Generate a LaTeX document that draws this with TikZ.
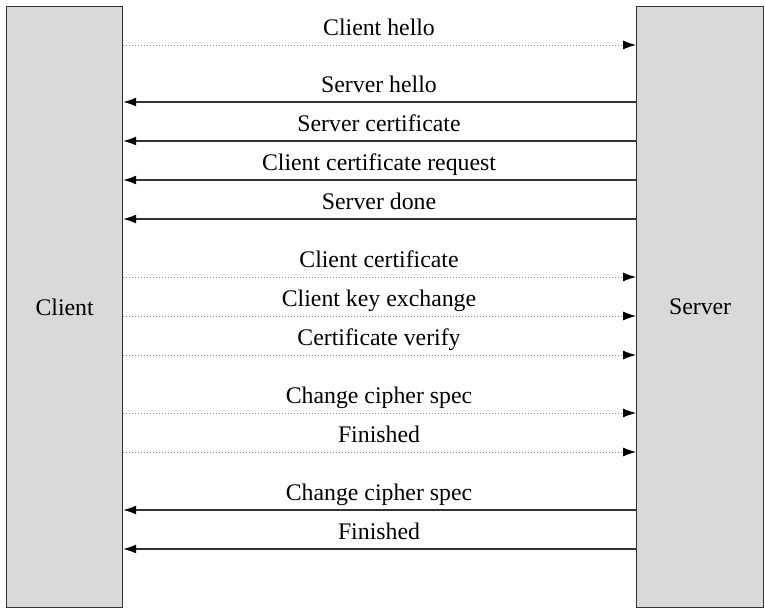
\documentclass[tikz,border=0pt]{standalone}
\usepackage{fontspec}
\setmainfont{Liberation Serif}
\usetikzlibrary{arrows.meta}
\begin{document}
\begin{tikzpicture}[x=1pt,y=-1pt,
  party/.style={draw=black!80, line width=1.2pt, fill=black!15, inner sep=0pt,
    font=\fontsize{23.8}{28}\selectfont},
  lbl/.style={inner sep=0pt, anchor=base, font=\fontsize{23.8}{28}\selectfont},
  req/.style={draw=black!45, line width=0.9pt, dash pattern=on 0.9pt off 2.1pt,
    -{Latex[length=13pt,width=9pt,black]}},
  resp/.style={draw=black!80, line width=1.3pt,
    -{Latex[length=13pt,width=9pt,black]}}
]
\useasboundingbox (0,0) rectangle (765,608);
\node[party, minimum width=116pt, minimum height=601pt, anchor=north west] (client) at (6,6) {Client};
\node[party, minimum width=127pt, minimum height=601pt, anchor=north west] (server) at (636,6) {Server};
\foreach \y/\t/\n in {45/Client hello/1, 277/Client certificate/6, 316/Client key exchange/7,
  355/Certificate verify/8, 413/Change cipher spec/9, 452/Finished/10} {
  \draw[req] (client.east |- 0,\y) -- (server.west |- 0,\y);
  \node[lbl] (m\n) at (379,\y-10) {\t};
}
\foreach \y/\t/\n in {102/Server hello/2, 141/Server certificate/3, 180/Client certificate request/4,
  219/Server done/5, 510/Change cipher spec/11, 549/Finished/12} {
  \draw[resp] (server.west |- 0,\y) -- (client.east |- 0,\y);
  \node[lbl] (m\n) at (379,\y-10) {\t};
}
\end{tikzpicture}
\end{document}
